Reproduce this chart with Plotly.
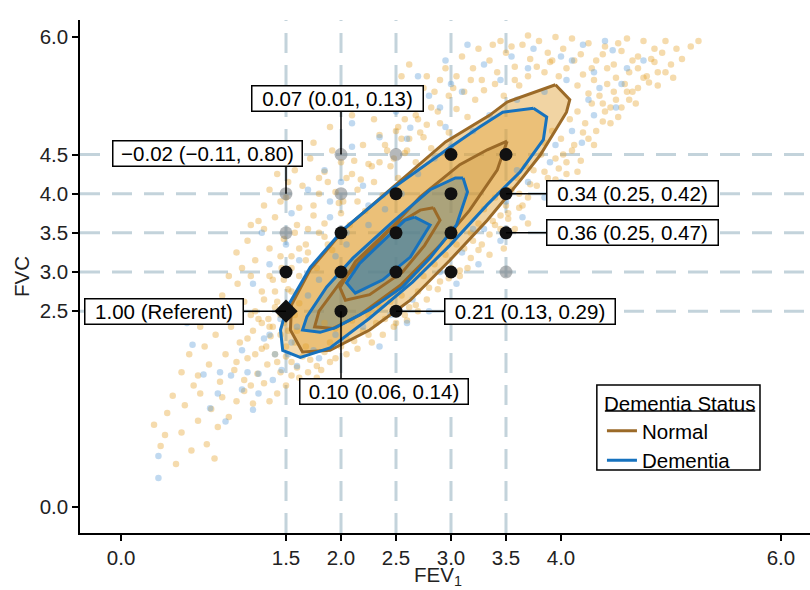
import plotly.graph_objects as go

# ---------------- data ----------------
# scatter of individual participants (hand-read, sparse approximation of the cloud)
normal_fev1 = [0.30,0.36,0.42,0.50,0.55,0.58,0.64,0.70,0.72,0.78,0.82,0.88,0.92,0.98,1.05,0.47,0.66,1.12,0.40,0.85,
               0.55,0.62,0.70,0.76,0.80,0.86,0.90,0.95,1.00,1.03,1.08,1.12,1.15,1.20,1.24,1.28,1.33,1.36,1.40,1.45,1.50,1.55,1.60,1.18,0.93,1.25,1.65,1.72,1.30,0.72,
               0.80,0.92,1.00,1.06,1.12,1.18,1.22,1.28,1.34,1.38,1.42,1.46,1.52,1.58,1.62,1.10,0.98,1.85,1.95,2.10,2.25,2.35,2.45,2.55,2.20,2.05,2.62,1.90,2.40,2.70,
               1.05,1.15,1.22,1.30,1.35,1.40,1.48,1.55,1.60,1.68,1.75,1.80,1.25,1.45,2.75,2.85,2.95,3.05,3.12,2.90,3.18,3.25,3.00,2.80,
               1.35,1.42,1.50,1.58,1.65,1.72,1.80,1.85,1.92,1.98,2.05,2.12,2.20,2.28,2.35,2.42,2.15,1.62,3.30,3.40,3.45,3.55,3.60,3.68,3.75,3.50,3.82,3.38,
               2.30,2.45,2.52,2.60,2.68,2.75,2.82,2.90,2.98,3.05,3.12,3.20,2.55,2.72,3.85,3.92,4.00,4.08,4.15,4.22,4.28,4.35,4.10,4.40,4.48,3.95,
               3.28,3.35,3.42,3.50,3.58,3.65,3.72,3.80,3.88,3.95,4.02,4.10,4.18,4.25,4.32,4.40,4.48,4.55,4.62,4.70,4.78,4.85,4.92,5.05,5.18,4.58,4.65,4.50,4.30,4.42,3.85,3.62,4.20,4.75,4.05,
               1.55,1.62,1.70,1.78,1.85,1.92,2.00,2.08,2.15,2.22,2.30,2.38,2.45,2.52,2.60,2.68,2.75,2.82,2.90,2.98,3.05,3.15,3.22,3.30,3.40,3.48,3.58,3.70,3.78,3.90,
               1.90,2.00,2.12,2.25,2.32,2.48,2.58,2.68,2.78,2.88,2.98,3.08,3.18,3.28,3.35,3.45,3.52,3.62,3.70,3.78,3.88,3.98,4.05,4.18,4.25,4.32,4.45,4.55,4.62,4.70,4.80,4.88,5.00,5.10,4.95,4.60,
               1.35,1.45,1.52,1.40,1.30,1.58,1.68,1.78,1.85,1.62,1.50,1.42,1.35,1.20,
               3.45,3.55,3.70,3.92,4.12,4.28,4.38,4.52,4.65,4.85,5.25,4.70,4.82,3.98,4.15,4.25,4.38,4.50,4.42,
               1.60,1.75,1.90,2.10,2.25,2.40,2.55,1.30,1.18,1.52,1.88,2.00,2.35,2.58,2.85,
               3.62,3.72,3.85,3.95,4.02,4.12,4.20,4.30,4.38,4.45,4.52,4.60,4.68,4.75,4.88,4.95,5.02,3.40,3.52,3.58,3.65,3.25,3.35,3.15,3.08,3.20,3.48,3.70,3.90,4.00,4.15,4.05,
               2.95,3.10,3.25,3.18,3.38,3.02,2.78,2.65,2.62,2.40,2.50,2.62,2.70,2.78,2.88,2.58,2.48,
               1.75,1.85,1.95,2.02,2.10,2.18,2.25,1.70,1.88,1.80,1.40,1.48,1.55,1.62,1.68,1.35,1.45,1.58,
               1.05,1.15,1.22,1.32,1.38,1.45,1.42,1.50,1.55,1.60,1.65,1.70,1.78,1.28,1.18,1.48,
               1.82,1.95,2.05,2.15,2.28,2.38,2.50,2.60,2.70]
normal_fvc = [1.05,0.78,1.20,0.55,0.95,1.30,0.72,1.10,1.45,0.80,1.25,1.02,1.40,1.15,1.35,1.42,1.55,1.48,0.92,0.62,
              1.72,1.95,1.68,2.05,1.82,2.20,1.60,1.95,2.30,1.75,2.10,1.62,1.90,2.25,1.70,2.02,1.82,2.18,1.95,1.72,2.05,1.85,1.78,1.55,2.40,2.40,1.92,1.88,1.58,2.30,
              2.55,2.70,2.48,2.85,2.62,2.95,2.50,2.75,2.40,2.90,2.62,3.05,2.78,2.45,2.95,3.05,2.95,2.35,2.28,2.38,2.45,2.55,2.62,2.70,2.25,2.15,2.55,2.10,2.40,2.75,
              3.25,3.40,3.15,3.55,3.30,3.70,3.42,3.20,3.60,3.35,3.72,3.50,3.65,3.90,2.95,3.10,3.22,3.35,3.30,2.88,3.50,3.62,3.05,2.80,
              4.05,4.25,3.95,4.30,4.10,4.45,4.00,4.28,4.55,3.88,4.20,4.42,4.62,4.35,4.75,4.55,4.05,3.82,3.80,3.95,3.72,4.05,4.20,4.35,4.30,3.85,4.50,3.65,
              4.95,5.10,4.85,5.20,5.00,5.35,5.10,5.45,5.25,5.50,5.30,5.60,4.70,4.78,4.65,4.80,4.70,4.95,5.05,4.90,5.15,5.25,4.55,5.05,5.30,4.45,
              5.45,5.70,5.55,5.80,5.62,5.90,5.72,5.95,5.80,6.00,5.85,5.98,5.78,5.92,5.70,5.88,5.65,5.82,5.55,5.75,5.50,5.68,5.80,5.85,5.88,5.40,5.30,5.48,5.45,5.60,5.55,5.38,5.52,5.95,5.60,
              2.75,2.60,3.25,3.05,3.45,3.28,3.75,3.60,3.90,3.78,4.15,3.98,4.35,4.20,4.55,4.40,4.72,4.58,4.90,4.78,5.08,4.98,5.20,5.32,5.40,5.25,5.45,5.50,5.62,5.68,
              1.85,2.05,2.12,2.20,2.35,2.30,2.45,2.58,2.65,2.78,2.92,3.02,3.18,3.35,3.48,3.55,3.68,3.82,3.95,4.10,4.20,4.32,4.40,4.42,4.70,4.80,4.90,5.10,5.20,5.35,5.42,5.55,5.65,5.72,5.95,5.98,
              2.30,2.45,2.25,2.55,2.65,2.10,2.05,1.80,1.98,1.65,1.55,1.45,1.35,1.32,
              5.95,5.88,6.02,5.70,5.70,5.60,5.78,5.92,5.70,5.85,5.95,5.60,5.72,5.50,5.38,5.28,5.15,5.20,5.40,
              4.50,4.65,4.85,5.00,5.15,5.30,5.50,3.85,3.60,4.15,4.15,4.40,4.40,4.95,5.30,
              4.00,4.12,4.28,4.18,4.50,4.62,4.78,4.62,4.92,5.10,4.98,5.30,5.15,5.48,5.38,5.55,5.48,3.60,3.75,3.55,3.85,3.28,3.22,3.05,2.95,3.40,3.30,3.62,4.05,3.95,4.28,4.25,
              5.60,5.75,5.85,5.45,5.90,5.35,5.50,5.25,5.65,4.62,4.80,4.70,4.95,4.88,5.05,4.52,4.45,
              3.85,3.62,4.02,3.90,4.25,4.18,4.38,3.55,3.35,4.20,2.75,2.90,3.05,3.30,3.15,2.95,3.20,3.50,
              1.85,2.15,1.95,2.05,2.30,2.20,1.85,1.92,1.68,2.25,1.55,1.72,1.65,2.35,2.45,2.35,
              1.75,1.90,1.95,2.02,2.10,2.20,2.35,2.38,2.50]
dementia_fev1 = [0.34,0.34,0.65,0.75,0.81,0.95,1.20,0.90,1.00,1.15,1.38,1.46,1.10,1.30,1.52,1.25,0.60,1.05,1.20,1.35,
                 1.50,1.62,1.28,1.55,1.70,1.85,2.00,2.10,2.35,2.63,2.50,2.80,3.00,3.15,3.30,3.55,3.75,4.00,4.20,4.47,
                 4.60,4.35,4.19,4.10,4.30,3.90,3.70,3.50,3.30,3.10,2.90,2.65,2.45,2.20,1.95,1.75,2.95,2.25,2.05,1.90,
                 1.60,1.70,1.80,1.95,2.05,2.25,2.40,2.55,2.70,2.85,3.00,3.20,3.35,3.60,3.85,4.05,4.30,
                 2.35,2.60,2.80,3.05,3.25,3.45,3.65,3.85,4.00,1.40,1.55,1.25,1.10,0.88,2.10,2.45,2.70,2.95,3.45,4.55,4.75,
                 3.95,4.25,4.50,3.60,3.20,1.45,1.35,1.60,1.80,2.00,2.20,1.90,2.60,2.90,3.10,3.70,4.10,4.40]
dementia_fvc = [0.37,0.65,2.07,1.69,1.26,1.09,1.24,1.72,1.68,1.72,1.62,1.75,2.00,2.15,1.95,1.45,2.35,2.60,2.85,3.10,
                3.35,3.15,3.50,3.75,4.05,4.30,4.15,4.60,4.72,4.84,5.05,5.25,5.40,5.90,5.65,5.75,5.85,5.75,5.90,5.83,
                5.60,5.35,4.65,4.80,5.00,4.40,4.15,3.90,3.55,3.25,3.00,2.65,2.45,2.30,2.20,2.00,4.85,3.85,3.50,3.70,
                2.30,2.70,2.90,3.20,3.35,3.60,3.80,4.00,4.25,4.45,4.60,4.80,5.00,5.20,5.30,5.45,5.55,
                2.05,2.35,2.50,2.85,3.10,3.40,3.70,3.95,4.15,1.95,2.10,1.70,1.50,1.45,4.90,5.20,5.50,5.70,5.45,5.40,5.70,
                4.62,5.20,5.10,4.30,3.55,2.40,2.20,1.80,1.90,2.10,4.10,3.90,4.70,5.10,5.30,5.60,5.70,5.95]

# density contours (hand-traced), three levels per group
normal_c1_x = [3.95,4.08,4.05,3.81,3.63,3.33,2.99,2.63,2.26,1.90,1.65,1.54,1.55,1.72,2.04,2.49,2.95,3.35,3.51,3.95]
normal_c1_y = [5.39,5.20,5.04,4.49,4.17,3.66,3.15,2.64,2.26,2.00,1.98,2.26,2.58,3.03,3.56,4.11,4.66,5.00,5.17,5.39]
normal_c2_x = [3.51,3.42,3.17,2.90,2.54,2.17,1.93,1.76,1.80,1.99,2.31,2.72,3.08,3.33,3.51]
normal_c2_y = [4.67,4.30,3.79,3.34,2.83,2.45,2.28,2.30,2.50,2.86,3.34,3.96,4.37,4.56,4.67]
normal_c3_x = [2.84,2.90,2.76,2.56,2.26,2.04,1.99,2.13,2.45,2.72,2.84]
normal_c3_y = [3.82,3.66,3.34,3.00,2.71,2.64,2.80,3.13,3.56,3.79,3.82]
dementia_c1_x = [3.75,3.87,3.84,3.63,3.33,2.99,2.65,2.26,1.90,1.63,1.47,1.45,1.51,1.72,2.02,2.47,2.96,3.26,3.47,3.75]
dementia_c1_y = [5.09,4.98,4.69,4.28,3.86,3.34,2.87,2.41,2.03,1.91,2.00,2.26,2.55,3.06,3.54,4.07,4.56,4.85,5.04,5.09]
dementia_c2_x = [3.11,3.15,3.05,2.81,2.56,2.26,1.95,1.81,1.65,1.69,1.87,2.11,2.47,2.81,3.04,3.11]
dementia_c2_y = [4.20,4.02,3.60,3.18,2.81,2.52,2.29,2.23,2.26,2.43,2.81,3.18,3.64,4.05,4.20,4.20]
dementia_c3_x = [2.67,2.81,2.63,2.38,2.13,2.05,2.17,2.42,2.58,2.67]
dementia_c3_y = [3.70,3.60,3.19,2.90,2.73,2.86,3.11,3.45,3.66,3.70]

# grid of FEV1 / FVC combinations
grid_fev1 = [1.5, 2.0, 2.5, 3.0, 3.5]
grid_fvc = [2.5, 3.0, 3.5, 4.0, 4.5]
sig_fev1 = [1.5, 2.0, 2.0, 2.0, 2.5, 2.5, 2.5, 2.5, 3.0, 3.0, 3.0, 3.0, 3.5, 3.5, 3.5]
sig_fvc = [3.0, 2.5, 3.0, 3.5, 2.5, 3.0, 3.5, 4.0, 3.0, 3.5, 4.0, 4.5, 3.5, 4.0, 4.5]
ns_fev1 = [1.5, 1.5, 2.0, 2.0, 2.5, 3.5]
ns_fvc = [3.5, 4.0, 4.0, 4.5, 4.5, 3.0]
ref_fev1 = [1.5]
ref_fvc = [2.5]

# labelled estimates
label_texts = ["−0.02 (−0.11, 0.80)", "0.07 (0.01, 0.13)", "0.34 (0.25, 0.42)",
               "0.36 (0.25, 0.47)", "0.21 (0.13, 0.29)", "1.00 (Referent)", "0.10 (0.06, 0.14)"]
label_fev1 = [1.5, 2.0, 3.5, 3.5, 2.5, 1.5, 2.0]
label_fvc = [4.0, 4.5, 4.0, 3.5, 2.5, 2.5, 2.5]

x_tickvals = [0.0, 1.5, 2.0, 2.5, 3.0, 3.5, 4.0, 6.0]
y_tickvals = [0.0, 2.5, 3.0, 3.5, 4.0, 4.5, 6.0]

# ---------------- styling / layout ----------------
BROWN = "#9B6A28"
BLUE = "#1672BE"
FONT = "Liberation Sans, Arial, sans-serif"
FS = 20.5

# label box positions (box centre, data units), box widths (px), connector end on box edge
label_box = [(0.79, 4.51), (1.97, 5.22), (4.65, 4.0), (4.65, 3.5), (3.72, 2.5), (0.39, 2.5), (2.39, 1.47)]
label_w = [186, 168, 168, 168, 167, 155, 165]
label_conn = [(1.5, 4.34), (2.0, 5.06), (3.87, 4.0), (3.87, 3.5), (2.95, 2.5), (1.11, 2.5), (2.0, 1.63)]

fig = go.Figure()

# density fills to suggest the dense point cloud
for xs, ys, col in [(dementia_c1_x, dementia_c1_y, "rgba(225,160,50,0.38)"),
                    (normal_c1_x, normal_c1_y, "rgba(225,160,50,0.45)"),
                    (normal_c2_x, normal_c2_y, "rgba(190,140,50,0.25)"),
                    (dementia_c2_x, dementia_c2_y, "rgba(50,125,170,0.30)"),
                    (dementia_c3_x, dementia_c3_y, "rgba(30,120,185,0.45)")]:
    fig.add_trace(go.Scatter(x=xs, y=ys, mode="lines", fill="toself", fillcolor=col,
                             line=dict(width=0), showlegend=False, hoverinfo="skip"))

fig.add_trace(go.Scatter(x=normal_fev1, y=normal_fvc, mode="markers",
                         marker=dict(color="rgba(230,160,40,0.38)", size=6.5, line=dict(width=0)),
                         showlegend=False))
fig.add_trace(go.Scatter(x=dementia_fev1, y=dementia_fvc, mode="markers",
                         marker=dict(color="rgba(90,155,215,0.38)", size=6.5, line=dict(width=0)),
                         showlegend=False))

for i, (xs, ys) in enumerate([(normal_c1_x, normal_c1_y), (normal_c2_x, normal_c2_y), (normal_c3_x, normal_c3_y)]):
    fig.add_trace(go.Scatter(x=xs, y=ys, mode="lines", line=dict(color=BROWN, width=3),
                             name="Normal", legendgroup="n", showlegend=(i == 0)))
for i, (xs, ys) in enumerate([(dementia_c1_x, dementia_c1_y), (dementia_c2_x, dementia_c2_y), (dementia_c3_x, dementia_c3_y)]):
    fig.add_trace(go.Scatter(x=xs, y=ys, mode="lines", line=dict(color=BLUE, width=3),
                             name="Dementia", legendgroup="d", showlegend=(i == 0)))

# connectors
shapes = []
for (lx, ly), (cx, cy) in zip(zip(label_fev1, label_fvc), label_conn):
    shapes.append(dict(type="line", xref="x", yref="y", x0=lx, y0=ly, x1=cx, y1=cy,
                       line=dict(color="black", width=1.5), layer="above"))

fig.add_trace(go.Scatter(x=ns_fev1, y=ns_fvc, mode="markers",
                         marker=dict(color="rgba(120,125,130,0.55)", size=13), showlegend=False))
fig.add_trace(go.Scatter(x=sig_fev1, y=sig_fvc, mode="markers",
                         marker=dict(color="#111111", size=13), showlegend=False))
fig.add_trace(go.Scatter(x=ref_fev1, y=ref_fvc, mode="markers",
                         marker=dict(color="#111111", size=18, symbol="diamond"), showlegend=False))

# grid dashes
for gx in grid_fev1:
    shapes.append(dict(type="line", xref="x", yref="paper", x0=gx, x1=gx, y0=0, y1=1,
                       line=dict(color="rgba(180,200,210,0.8)", width=3, dash="20px,12px"), layer="below"))
for gy in grid_fvc:
    shapes.append(dict(type="line", xref="paper", yref="y", x0=0, x1=1, y0=gy, y1=gy,
                       line=dict(color="rgba(180,200,210,0.8)", width=3, dash="20px,12px"), layer="below"))
# legend box and title underline
shapes.append(dict(type="rect", xref="paper", yref="paper", x0=0.708, x1=0.9315, y0=0.1228, y1=0.2885,
                   fillcolor="white", line=dict(color="black", width=1.5), layer="above"))
shapes.append(dict(type="line", xref="paper", yref="paper", x0=0.719, x1=0.925, y0=0.2378, y1=0.2378,
                   line=dict(color="black", width=1.5), layer="above"))

annotations = []
for t, (bx, by), w in zip(label_texts, label_box, label_w):
    annotations.append(dict(x=bx, y=by, xref="x", yref="y", text=t, showarrow=False,
                            font=dict(family=FONT, size=FS, color="black"),
                            width=w, height=22, align="center",
                            bgcolor="white", bordercolor="black", borderwidth=1.5, borderpad=1))
# x-axis title
annotations.append(dict(x=0.49, y=-0.084, xref="paper", yref="paper", text="FEV<sub>1</sub>",
                        showarrow=False, xanchor="center", yanchor="middle",
                        font=dict(family=FONT, size=FS, color="#222")))

fig.update_layout(
    width=810, height=590,
    margin=dict(l=80, r=0, t=20, b=57),
    paper_bgcolor="white", plot_bgcolor="white",
    font=dict(family=FONT, size=FS, color="#222"),
    shapes=shapes, annotations=annotations,
    legend=dict(x=0.715, y=0.290, xanchor="left", yanchor="top",
                bgcolor="rgba(0,0,0,0)", borderwidth=0,
                title=dict(text="Dementia Status", font=dict(size=FS, color="black")),
                font=dict(size=FS, color="black"), itemwidth=30, tracegroupgap=0),
    xaxis=dict(range=[-0.373, 6.264], tickvals=x_tickvals, ticktext=[f"{v:.1f}" for v in x_tickvals],
               ticks="outside", ticklen=6, tickwidth=1.5, tickcolor="black", automargin=False,
               showline=True, linecolor="black", linewidth=1.5, showgrid=False, zeroline=False,
               tickfont=dict(size=FS, color="#222")),
    yaxis=dict(range=[-0.332, 6.217], tickvals=y_tickvals, ticktext=[f"{v:.1f}" for v in y_tickvals],
               ticks="outside", ticklen=6, tickwidth=1.5, tickcolor="black", automargin=False,
               showline=True, linecolor="black", linewidth=1.5, showgrid=False, zeroline=False,
               tickfont=dict(size=FS, color="#222"),
               title=dict(text="FVC", font=dict(size=FS, color="#222"), standoff=4)),
)

fig.write_html("out.html")
